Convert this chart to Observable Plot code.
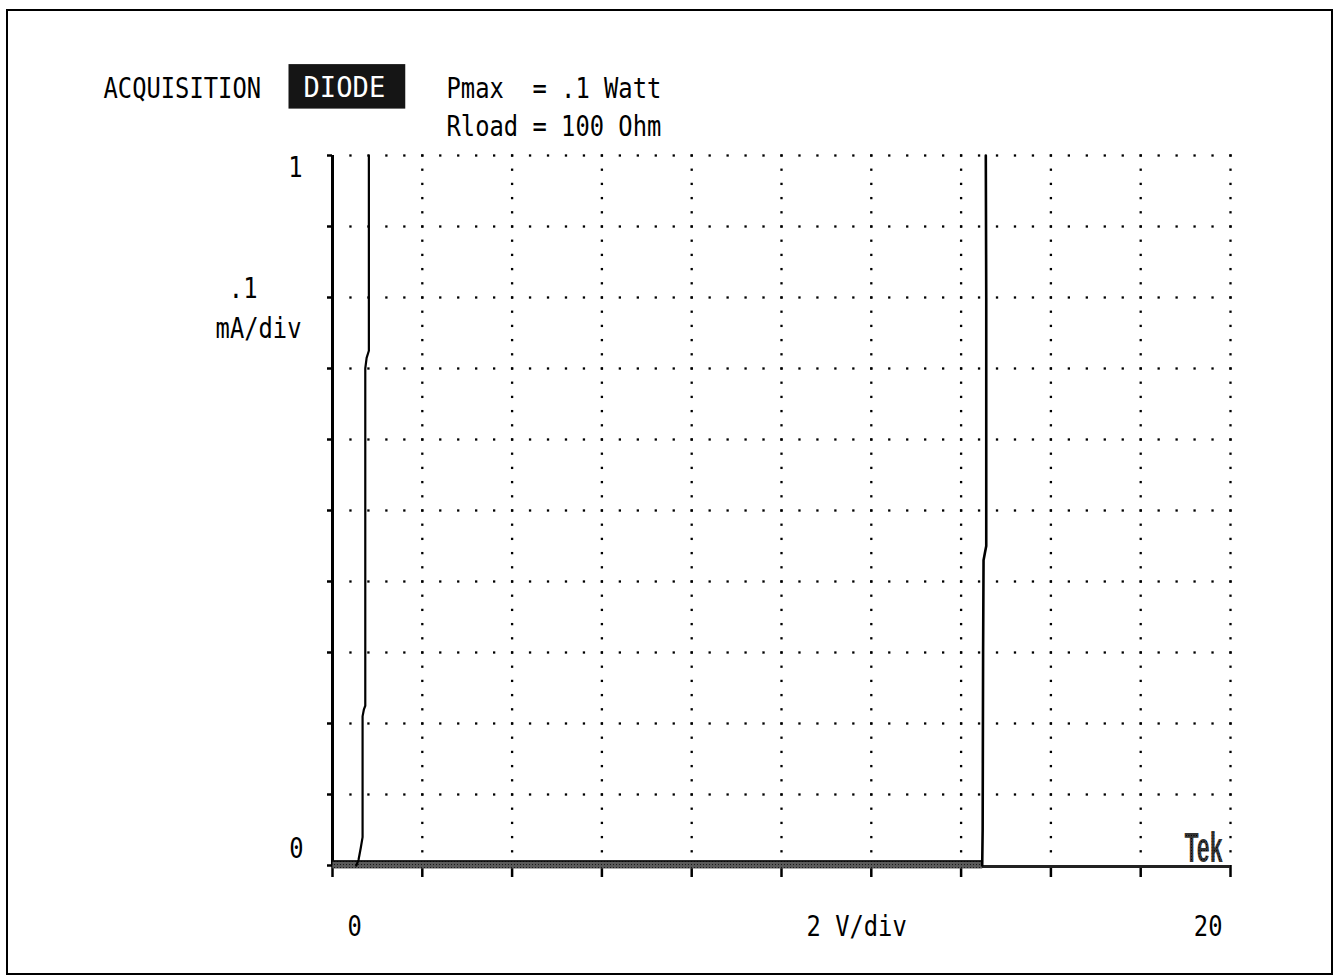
<!DOCTYPE html>
<html>
<head>
<meta charset="utf-8">
<script src="https://cdn.jsdelivr.net/npm/d3@7"></script>
<script src="https://cdn.jsdelivr.net/npm/@observablehq/plot@0.6"></script>
<style>
  html, body { margin: 0; padding: 0; background: #fff; }
  #chart { width: 1334px; height: 976px; }
</style>
</head>
<body>
<div id="chart"></div>
<script>
// ---- Axis / graticule definitions (2 V/div, 0.1 mA/div) ----
const xMajor = [0, 2, 4, 6, 8, 10, 12, 14, 16, 18, 20];
const yMajor = [0, 0.1, 0.2, 0.3, 0.4, 0.5, 0.6, 0.7, 0.8, 0.9, 1.0];
const xMinorPerDiv = 5;
const yMinorPerDiv = 5;
const xTickLabels = ["0", "20"];
const xTickValues = [0, 20];
const yTickLabels = ["0", "1"];
const yTickValues = [0, 1];

// ---- Header texts ----
const headerLeft = "ACQUISITION";
const headerMode = "DIODE";
const headerLines = ["Pmax  = .1 Watt", "Rload = 100 Ohm"];
const yUnitLines = [".1", "mA/div"];
const xUnit = "2 V/div";
const brand = "Tek";

// ---- Traces (volts, mA) ----
const forwardV = [0.53, 0.58, 0.63, 0.67, 0.67, 0.70, 0.73, 0.73, 0.76, 0.81, 0.81];
const forwardI = [0.0, 0.008, 0.025, 0.04, 0.21, 0.22, 0.225, 0.70, 0.715, 0.725, 1.0];
const breakdownV = [14.47, 14.48, 14.49, 14.50, 14.53, 14.56, 14.56, 14.55];
const breakdownI = [0.0, 0.05, 0.30, 0.43, 0.44, 0.45, 0.80, 1.0];
const baselineV = [0, 14.47];
const baselineI = [0, 0];

const toPts = (xs, ys) => xs.map((v, i) => ({v, i: ys[i]}));
const forward = toPts(forwardV, forwardI);
const breakdown = toPts(breakdownV, breakdownI);
const baseline = toPts(baselineV, baselineI);

// graticule dots: minor divisions along every major line
const xStep = (xMajor[1] - xMajor[0]) / xMinorPerDiv;
const yStep = (yMajor[1] - yMajor[0]) / yMinorPerDiv;
const nX = (xMajor.length - 1) * xMinorPerDiv;
const nY = (yMajor.length - 1) * yMinorPerDiv;
const gridDots = [];
for (const y of yMajor.slice(1)) for (let k = 1; k <= nX; k++) gridDots.push({v: k * xStep, i: y});
for (const x of xMajor.slice(1)) for (let k = 1; k <= nY; k++) gridDots.push({v: x, i: k * yStep});

const FONT = "DejaVu Sans Mono";
const FS = 28;
const txt = {fontFamily: FONT, fontSize: FS, fill: "black", lineAnchor: "bottom"};

const plot = Plot.plot({
  width: 1334,
  height: 976,
  marginLeft: 332,
  marginRight: 104,
  marginTop: 155,
  marginBottom: 111,
  style: {background: "white", color: "black"},
  x: {domain: [0, 20]},
  y: {domain: [0, 1]},
  marks: [
    Plot.dot(gridDots, {x: "v", y: "i", symbol: "square", r: 1.3, fill: "black", stroke: "none"}),
    Plot.axisX({ticks: xMajor, tickSize: 12, tickFormat: () => "", strokeWidth: 2.5, label: null}),
    Plot.axisY({ticks: yMajor, tickSize: 5, tickFormat: () => "", strokeWidth: 2.5, label: null}),
    Plot.ruleX([0], {stroke: "black", strokeWidth: 3}),
    Plot.ruleY([0], {stroke: "#222", strokeWidth: 3, dy: 1}),
    Plot.line(baseline, {x: "v", y: "i", stroke: "url(#dith)", strokeWidth: 8, dy: -1, strokeLinecap: "butt"}),
    Plot.line(baseline, {x: "v", y: "i", stroke: "black", strokeWidth: 1.5, dy: -4.5}),
    Plot.line(forward, {x: "v", y: "i", stroke: "black", strokeWidth: 2.2}),
    Plot.line(breakdown, {x: "v", y: "i", stroke: "black", strokeWidth: 2.6}),
    // y tick labels
    Plot.text([yTickLabels[0]], {...txt, x: 0, y: yTickValues[0], dx: -29, dy: -8, textAnchor: "end"}),
    Plot.text([yTickLabels[1]], {...txt, x: 0, y: yTickValues[1], dx: -30, dy: 21, textAnchor: "end"}),
    // x tick labels
    Plot.text([xTickLabels[0]], {...txt, x: xTickValues[0], y: 0, dx: 15, dy: 70, textAnchor: "start"}),
    Plot.text([xTickLabels[1]], {...txt, x: xTickValues[1], y: 0, dx: -8, dy: 70, textAnchor: "end"}),
    Plot.text([xUnit], {...txt, x: 10, y: 0, dx: 25, dy: 70, textAnchor: "start"}),
    // y unit
    Plot.text([yUnitLines[0]], {...txt, x: 0, y: 0.8, dx: -75, dy: 0, textAnchor: "end"}),
    Plot.text([yUnitLines[1]], {...txt, x: 0, y: 0.8, dx: -31, dy: 40, textAnchor: "end"}),
    // header
    Plot.text([headerLeft], {...txt, x: 0, y: 1, dx: -229, dy: -58, textAnchor: "start"}),
    Plot.text([headerMode], {...txt, fill: "white", x: 0, y: 1, dx: -29, dy: -59, textAnchor: "start"}),
    Plot.text([headerLines[0]], {...txt, x: 0, y: 1, dx: 114, dy: -58, textAnchor: "start"}),
    Plot.text([headerLines[1]], {...txt, x: 0, y: 1, dx: 114, dy: -20, textAnchor: "start"}),
    // brand
    Plot.text([brand], {x: 20, y: 0, dx: -8, dy: -4, textAnchor: "end", lineAnchor: "bottom",
      fontFamily: "Liberation Sans", fontWeight: "bold", fontSize: 42, fill: "url(#dith2)"})
  ]
});

document.getElementById("chart").appendChild(plot);

// ---- post-processing: patterns, condensed glyphs, DIODE box, border ----
const NS = "http://www.w3.org/2000/svg";
const svg = plot;
const defs = document.createElementNS(NS, "defs");
function pattern(id, bg, fg) {
  const p = document.createElementNS(NS, "pattern");
  p.setAttribute("id", id);
  p.setAttribute("width", "3");
  p.setAttribute("height", "3");
  p.setAttribute("patternUnits", "userSpaceOnUse");
  const r0 = document.createElementNS(NS, "rect");
  r0.setAttribute("width", "3"); r0.setAttribute("height", "3"); r0.setAttribute("fill", bg);
  const r1 = document.createElementNS(NS, "rect");
  r1.setAttribute("width", "2"); r1.setAttribute("height", "2"); r1.setAttribute("fill", fg);
  const r2 = document.createElementNS(NS, "rect");
  r2.setAttribute("x", "2"); r2.setAttribute("y", "2"); r2.setAttribute("width", "1"); r2.setAttribute("height", "1"); r2.setAttribute("fill", fg);
  p.append(r0, r1, r2);
  return p;
}
defs.append(pattern("dith", "#9a9a9a", "#1a1a1a"), pattern("dith2", "#666", "#000"));
svg.insertBefore(defs, svg.firstChild);

svg.querySelectorAll("text").forEach(t => {
  const c = t.textContent;
  const s = c === brand ? 0.55 : c === headerMode ? 0.97 : 0.85;
  t.setAttribute("transform", (t.getAttribute("transform") || "") + ` scale(${s},1)`);
});

// DIODE highlight box sized from the rendered text
const modeText = [...svg.querySelectorAll("text")].find(t => t.textContent === headerMode);
if (modeText) {
  const sb = svg.getBoundingClientRect();
  const b = modeText.getBoundingClientRect();
  const box = document.createElementNS(NS, "rect");
  box.setAttribute("x", b.left - sb.left - 15);
  box.setAttribute("y", b.top - sb.top - 6);
  box.setAttribute("width", b.width + 35);
  box.setAttribute("height", b.height + 11);
  box.setAttribute("fill", "#151515");
  const g = modeText.closest("g");
  g.parentNode.insertBefore(box, g);
}

// outer frame of the screen dump
const frame = document.createElementNS(NS, "rect");
frame.setAttribute("x", 7); frame.setAttribute("y", 10);
frame.setAttribute("width", 1325); frame.setAttribute("height", 964);
frame.setAttribute("fill", "none"); frame.setAttribute("stroke", "black"); frame.setAttribute("stroke-width", 2);
svg.appendChild(frame);
</script>
</body>
</html>
